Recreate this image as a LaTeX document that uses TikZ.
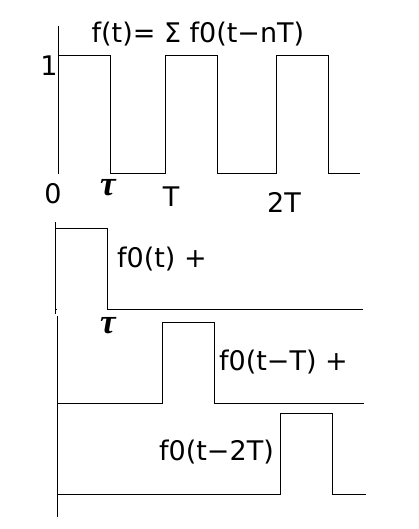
\documentclass[tikz,border=0pt]{standalone}
\usepackage{fontspec}
\setmainfont{DejaVu Sans}
\newfontfamily\taufont{Liberation Serif}
\tikzset{
  sig/axis/.style={draw=black, line width=1pt},
  sig/wave/.style={draw=black, line width=1pt},
  sig/label/.style={font=\fontsize{27}{30}\selectfont, text=black, inner sep=0pt},
  sig/tau/.style={font=\taufont\bfseries\itshape\fontsize{35}{38}\selectfont, text=black, inner sep=0pt}
}
\begin{document}
\begin{tikzpicture}[x=1pt,y=-1pt]
  \useasboundingbox (0,0) rectangle (419,529);
  % periodic signal f(t)
  \draw[sig/axis] (58,26) -- (58,174);
  \draw[sig/wave] (58,56) -- (110,56) -- (110,174) -- (165,174) -- (165,56)
    -- (217,56) -- (217,174) -- (276,174) -- (276,56) -- (328,56) -- (328,174) -- (360,174);
  \node[sig/label, anchor=base] (sum) at (198,43) {f(t)= Σ f0(t−nT)};
  \node[sig/label, anchor=base] (one) at (49,76) {1};
  \node[sig/label, anchor=base] (zero) at (53,204) {0};
  \node[sig/tau, anchor=base] (tau1) at (108,196) {τ};
  \node[sig/label, anchor=base] (per1) at (171,207) {T};
  \node[sig/label, anchor=base] (per2) at (284,212) {2T};
  % single pulses
  \draw[sig/axis] (55,222) -- (55,314);
  \draw[sig/axis] (57,316) -- (57,517);
  \foreach \lo/\hi/\ya/\yb/\xe in {55/107/228/309/363, 162/214/322/403/364, 280/332/413/494/366}{
    \draw[sig/wave] (57,\yb) -- (\lo,\yb) -- (\lo,\ya) -- (\hi,\ya) -- (\hi,\yb) -- (\xe,\yb);
  }
  \node[sig/tau, anchor=base] (tau2) at (108,333) {τ};
  \node[sig/label, anchor=base west] (p0) at (117,267) {f0(t) +};
  \node[sig/label, anchor=base west] (p1) at (219,370) {f0(t−T) +};
  \node[sig/label, anchor=base west] (p2) at (159,460) {f0(t−2T)};
\end{tikzpicture}
\end{document}
